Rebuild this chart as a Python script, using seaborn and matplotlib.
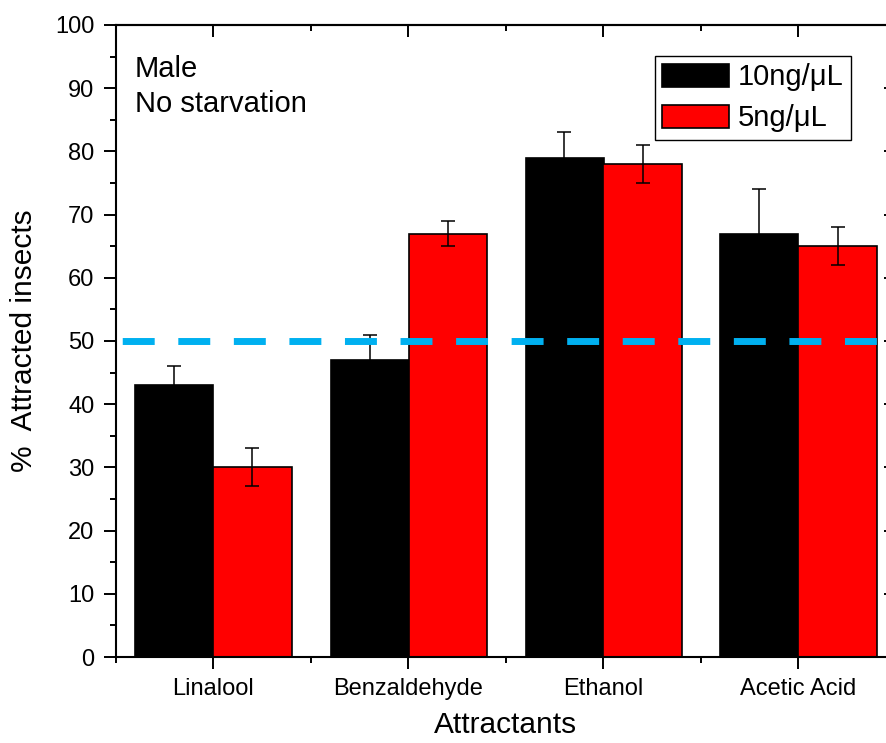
import matplotlib
matplotlib.use("Agg")
import matplotlib.pyplot as plt
import numpy as np
import pandas as pd
import seaborn as sns
from matplotlib.ticker import MultipleLocator, FixedLocator

categories = ["Linalool", "Benzaldehyde", "Ethanol", "Acetic Acid"]
series = ["10ng/\u03bcL", "5ng/\u03bcL"]
values_10 = [43, 47, 79, 67]
values_5 = [30, 67, 78, 65]
err_10 = [3, 4, 4, 7]
err_5 = [3, 2, 3, 3]
threshold = 50
y_ticks = [0, 10, 20, 30, 40, 50, 60, 70, 80, 90, 100]

sns.set_theme(style="ticks", rc={
    "axes.edgecolor": "black", "text.color": "black", "axes.labelcolor": "black",
    "xtick.color": "black", "ytick.color": "black",
})
plt.rcParams["font.family"] = ["Liberation Sans", "DejaVu Sans"]

df = pd.DataFrame({
    "Attractant": categories * 2,
    "Dose": [series[0]] * len(categories) + [series[1]] * len(categories),
    "Value": values_10 + values_5,
})

W, H = 887, 743
fig = plt.figure(figsize=(W / 100, H / 100), dpi=100)
ax = fig.add_axes([116 / W, 1 - 657 / H, 780 / W, 632 / H])

sns.barplot(data=df, x="Attractant", y="Value", hue="Dose", hue_order=series,
            palette=["black", "#FF0000"], edgecolor="black", linewidth=1.2,
            width=0.8, errorbar=None, saturation=1, ax=ax)

for cont, errs in zip(ax.containers, [err_10, err_5]):
    xs = [b.get_x() + b.get_width() / 2 for b in cont]
    ys = [b.get_height() for b in cont]
    ax.errorbar(xs, ys, yerr=errs, fmt="none", ecolor="black", elinewidth=1.1,
                capsize=5, capthick=1.1, zorder=5)

ax.axhline(threshold, color="#00B0F0", lw=5, linestyle=(7.1, (4.6, 3.4)),
           dash_capstyle="butt", zorder=6)

ax.set_xlim(-0.5, 3.5)
ax.set_ylim(0, 100)
ax.set_yticks(y_ticks)
ax.yaxis.set_minor_locator(MultipleLocator(5))
ax.xaxis.set_minor_locator(FixedLocator([-0.5, 0.5, 1.5, 2.5, 3.5]))

for s in ax.spines.values():
    s.set_linewidth(1.5)
    s.set_color("black")

ax.tick_params(axis="y", which="major", direction="out", length=8.6, width=1.4,
               labelsize=17, pad=7, left=True, right=False)
ax.tick_params(axis="y", which="minor", direction="out", length=4.3, width=1.4,
               left=True, right=False)
ax.tick_params(axis="x", which="major", direction="out", length=8.6, width=1.4,
               labelsize=17, pad=6.5, bottom=True, top=False)
ax.tick_params(axis="x", which="minor", direction="out", length=4.3, width=1.4,
               bottom=True, top=False)

sec_y = ax.secondary_yaxis("right")
sec_y.set_yticks(y_ticks)
sec_y.yaxis.set_minor_locator(MultipleLocator(5))
sec_y.tick_params(axis="y", which="major", direction="in", length=8.6, width=1.4, labelright=False)
sec_y.tick_params(axis="y", which="minor", direction="in", length=4.3, width=1.4)
for s in sec_y.spines.values():
    s.set_visible(False)

sec_x = ax.secondary_xaxis("top")
sec_x.set_xticks(range(len(categories)))
sec_x.xaxis.set_minor_locator(FixedLocator([-0.5, 0.5, 1.5, 2.5, 3.5]))
sec_x.tick_params(axis="x", which="major", direction="in", length=8.6, width=1.4, labeltop=False)
sec_x.tick_params(axis="x", which="minor", direction="in", length=4.3, width=1.4)
for k, s in sec_x.spines.items():
    s.set_visible(k == "top")
    s.set_linewidth(1.5)

ax.set_xlabel("Attractants", fontsize=21.5, labelpad=8)
ax.set_ylabel("%  Attracted insects", fontsize=21.5, labelpad=12)

ax.text(0.024, 0.952, "Male\nNo starvation", transform=ax.transAxes,
        fontsize=21, va="top", ha="left", linespacing=1.3)

leg = ax.legend(loc="upper right", bbox_to_anchor=(851 / W, 1 - 56 / H),
                bbox_transform=fig.transFigure, frameon=True, fancybox=False,
                edgecolor="black", framealpha=1, borderaxespad=0, fontsize=21,
                handlelength=2.3, handleheight=0.85, handletextpad=0.3,
                labelspacing=0.45, borderpad=0.25, title=None)
leg.get_frame().set_linewidth(1.0)

fig.savefig("out.png", dpi=100)
